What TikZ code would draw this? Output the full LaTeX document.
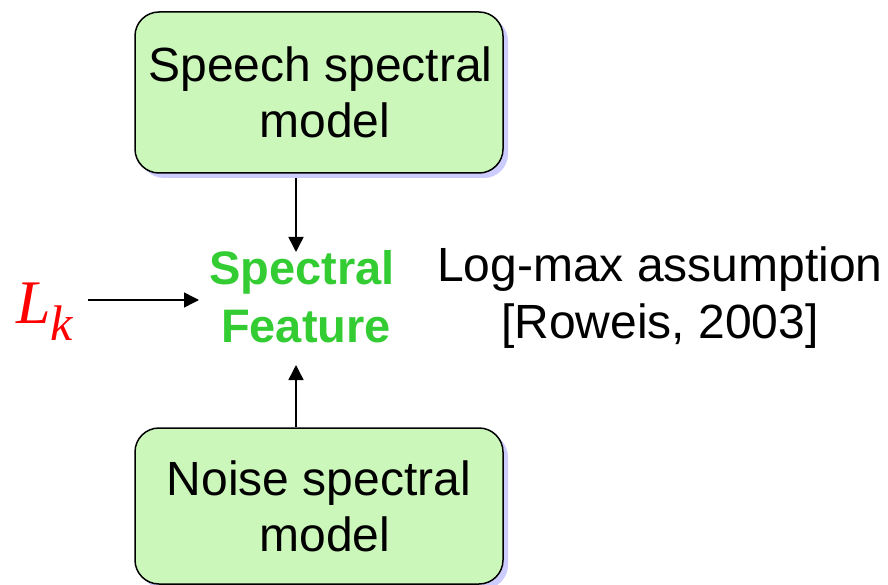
\documentclass[tikz,border=0pt]{standalone}
\usepackage{fontspec}
\setmainfont{Liberation Sans}
\newfontfamily\lkfont{Liberation Serif}
\usetikzlibrary{arrows.meta,shadows}

\definecolor{boxfill}{RGB}{204,247,186}
\definecolor{boxshadow}{RGB}{204,204,255}
\definecolor{featgreen}{RGB}{51,204,51}

\tikzset{
  modelbox/.style={draw=black, line width=1.5pt, fill=boxfill,
    rounded corners=24pt, minimum width=368pt, inner sep=0pt,
    align=center, font=\fontsize{48}{56}\selectfont,
    drop shadow={shadow xshift=5pt, shadow yshift=-5pt,
      fill=boxshadow, opacity=1}},
  featlabel/.style={inner sep=0pt, align=center, text=featgreen,
    font=\bfseries\fontsize{47}{58}\selectfont},
  notelabel/.style={inner sep=0pt, align=center,
    font=\fontsize{48}{57}\selectfont},
  flowarrow/.style={draw=black, line width=1.5pt,
    -{Triangle[length=15pt,width=15pt]}}
}

\begin{document}
\begin{tikzpicture}[x=1pt, y=-1pt]
  \useasboundingbox (0,0) rectangle (888,585);

  % model blocks
  \node[modelbox, minimum height=161pt] (speech) at (319,92.5)
    {\hspace*{3pt}Speech spectral\\\hspace*{12pt}model};
  \node[modelbox, minimum height=156pt] (noise) at (319,506)
    {Noise spectral\\\hspace*{12pt}model};

  % combined feature and its label
  \node[featlabel] (feat) at (302,297) {Spectral\\\hspace*{8pt}Feature};
  \node[notelabel] (note) at (660,298) {Log-max assumption\\{[Roweis, 2003]}};

  % input symbol
  \node[inner sep=0pt, anchor=base west, text=red] (lk) at (16,323)
    {\lkfont\itshape\fontsize{62}{62}\selectfont L\raisebox{-17pt}{\fontsize{50}{50}\selectfont k}};

  % arrow end points at the feature
  \coordinate (ftop) at (296,252);
  \coordinate (fbot) at (296,365);
  \coordinate (fleft) at (199,300);

  \draw[flowarrow] ([yshift=-4pt]speech.south -| ftop) -- (ftop);
  \draw[flowarrow] (noise.north -| fbot) -- (fbot);
  \draw[flowarrow] ([xshift=15pt]lk.east |- fleft) -- (fleft);
\end{tikzpicture}
\end{document}
